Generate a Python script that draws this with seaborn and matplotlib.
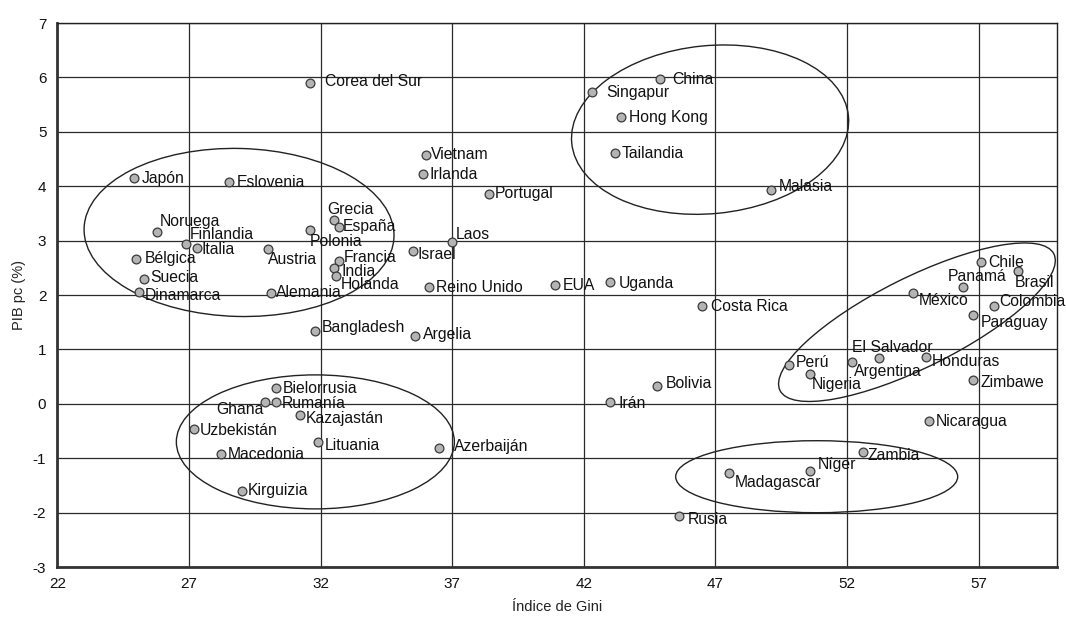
import pandas as pd
import matplotlib
matplotlib.use("Agg")
import matplotlib.pyplot as plt
import matplotlib.transforms as mtransforms
from matplotlib.patches import Ellipse
import seaborn as sns

# --- datos ---
paises = ['Corea del Sur', 'Vietnam', 'Irlanda', 'Portugal', 'Japón', 'Eslovenia',
          'Noruega', 'Finlandia', 'Italia', 'Bélgica', 'Suecia', 'Dinamarca',
          'Austria', 'Alemania', 'Polonia', 'Grecia', 'España', 'Francia', 'India',
          'Holanda', 'Laos', 'Israel', 'Reino Unido',
          'China', 'Singapur', 'Hong Kong', 'Tailandia', 'Malasia', 'EUA', 'Uganda',
          'Costa Rica', 'Chile', 'Brasil', 'Panamá', 'México', 'Colombia', 'Paraguay',
          'Bangladesh', 'Argelia', 'Bielorrusia', 'Ghana', 'Rumanía', 'Kazajastán',
          'Uzbekistán', 'Lituania', 'Azerbaiján', 'Macedonia', 'Kirguizia',
          'Perú', 'Nigeria', 'Argentina', 'El Salvador', 'Honduras', 'Zimbawe',
          'Bolivia', 'Irán', 'Nicaragua', 'Zambia', 'Níger', 'Madagascar', 'Rusia']
gini = [31.6, 36.0, 35.9, 38.4, 24.9, 28.5,
        25.8, 26.9, 27.3, 25.0, 25.3, 25.1,
        30.0, 30.1, 31.6, 32.5, 32.7, 32.7, 32.5,
        32.6, 37.0, 35.5, 36.1,
        44.9, 42.3, 43.4, 43.2, 49.1, 40.9, 43.0,
        46.5, 57.1, 58.5, 56.4, 54.5, 57.6, 56.8,
        31.8, 35.6, 30.3, 29.9, 30.3, 31.2,
        27.2, 31.9, 36.5, 28.2, 29.0,
        49.8, 50.6, 52.2, 53.2, 55.0, 56.8,
        44.8, 43.0, 55.1, 52.6, 50.6, 47.5, 45.6]
pib = [5.90, 4.58, 4.22, 3.86, 4.15, 4.07,
       3.16, 2.94, 2.87, 2.67, 2.29, 2.05,
       2.84, 2.04, 3.19, 3.37, 3.25, 2.62, 2.50,
       2.35, 2.98, 2.80, 2.15,
       5.97, 5.73, 5.27, 4.61, 3.93, 2.18, 2.24,
       1.80, 2.60, 2.44, 2.14, 2.03, 1.80, 1.64,
       1.33, 1.25, 0.29, 0.03, 0.03, -0.21,
       -0.46, -0.71, -0.81, -0.92, -1.60,
       0.72, 0.55, 0.76, 0.84, 0.86, 0.43,
       0.32, 0.04, -0.32, -0.88, -1.23, -1.27, -2.06]

# desplazamiento de cada etiqueta respecto del punto (px): dx, dy
etq_dx = [15, 5, 6, 6, 8, 8,
          2, 3, 5, 8, 6, 6,
          0, 5, 0, -7, 4, 5, 8,
          4, 4, 5, 7,
          12, 15, 8, 6, 8, 8, 9,
          9, 7, -3, -15, 6, 5, 7,
          6, 8, 7, -2, 6, 6,
          5, 7, 15, 7, 6,
          7, 2, 2, -27, 6, 7,
          8, 8, 7, 5, 8, 6, 9]
etq_dy = [1, 0, 0, 0, 0, 0,
          10, 9, -2, 0, 2, -3,
          -10, 0, -11, 11, 1, 4, -4,
          -9, 7, -3, -1,
          0, 0, 0, 0, 4, 0, -2,
          -1, 0, -11, 11, -7, 4, -8,
          4, 1, 0, -7, -1, -3,
          -2, -3, 1, -1, 0,
          2, -11, -9, 11, -4, -2,
          3, -2, 0, -4, 6, -10, -4]

# grupos marcados con elipses: centro (datos), semiejes (px), angulo (grados)
elip_cx = [28.9, 46.8, 31.8, 50.85, 54.66]
elip_cy = [3.15, 5.04, -0.70, -1.34, 1.50]
elip_a = [155, 139, 139, 141, 153]
elip_b = [84, 84, 67, 36, 45]
elip_ang = [-1.5, 5.6, 0, 0, 26.5]

df = pd.DataFrame({'pais': paises, 'gini': gini, 'pib': pib})

sns.set_theme(style='white')
plt.rcParams['font.family'] = ['Liberation Sans', 'DejaVu Sans']
plt.rcParams['axes.unicode_minus'] = False

fig = plt.figure(figsize=(10.66, 6.19), dpi=100)
ax = fig.add_axes([0.0539, 0.084, 0.9381, 0.8788])

sns.scatterplot(data=df, x='gini', y='pib', ax=ax, s=40, color='#b4b4b4',
                edgecolor='#3a3a3a', linewidth=0.9, zorder=3, legend=False)

for nombre, x, y, dx, dy in zip(paises, gini, pib, etq_dx, etq_dy):
    ha = 'right' if nombre == 'Ghana' else 'left'
    ax.annotate(nombre, (x, y), xytext=(dx * 0.72, dy * 0.72),
                textcoords='offset points', ha=ha, va='center',
                fontsize=11.3, color='#111111', zorder=4)

for cx, cy, a, b, ang in zip(elip_cx, elip_cy, elip_a, elip_b, elip_ang):
    tr = fig.dpi_scale_trans + mtransforms.ScaledTranslation(cx, cy, ax.transData)
    e = Ellipse((0, 0), width=2 * a / 100, height=2 * b / 100, angle=ang,
                transform=tr, fill=False, edgecolor='#222222', lw=1.0, zorder=2)
    ax.add_patch(e)

ax.set_xlim(22, 60)
ax.set_ylim(-3, 7)
ax.set_xticks(range(22, 58, 5))
ax.set_yticks(range(-3, 8))
ax.grid(True, color='#2a2a2a', lw=0.9)
ax.set_axisbelow(True)
ax.tick_params(length=0, labelsize=11, colors='#111111')
ax.tick_params(axis='x', pad=7)
ax.tick_params(axis='y', pad=8)

for lado in ['top', 'right']:
    ax.spines[lado].set_color('#222222')
    ax.spines[lado].set_linewidth(1.0)
for lado in ['left', 'bottom']:
    ax.spines[lado].set_color('#333333')
    ax.spines[lado].set_linewidth(2.0)

ax.set_xlabel('Índice de Gini', fontsize=10.5, labelpad=7, color='#222222')
ax.set_ylabel('PIB pc (%)', fontsize=10.5, labelpad=5, color='#222222')

fig.savefig('out.png', dpi=100)
